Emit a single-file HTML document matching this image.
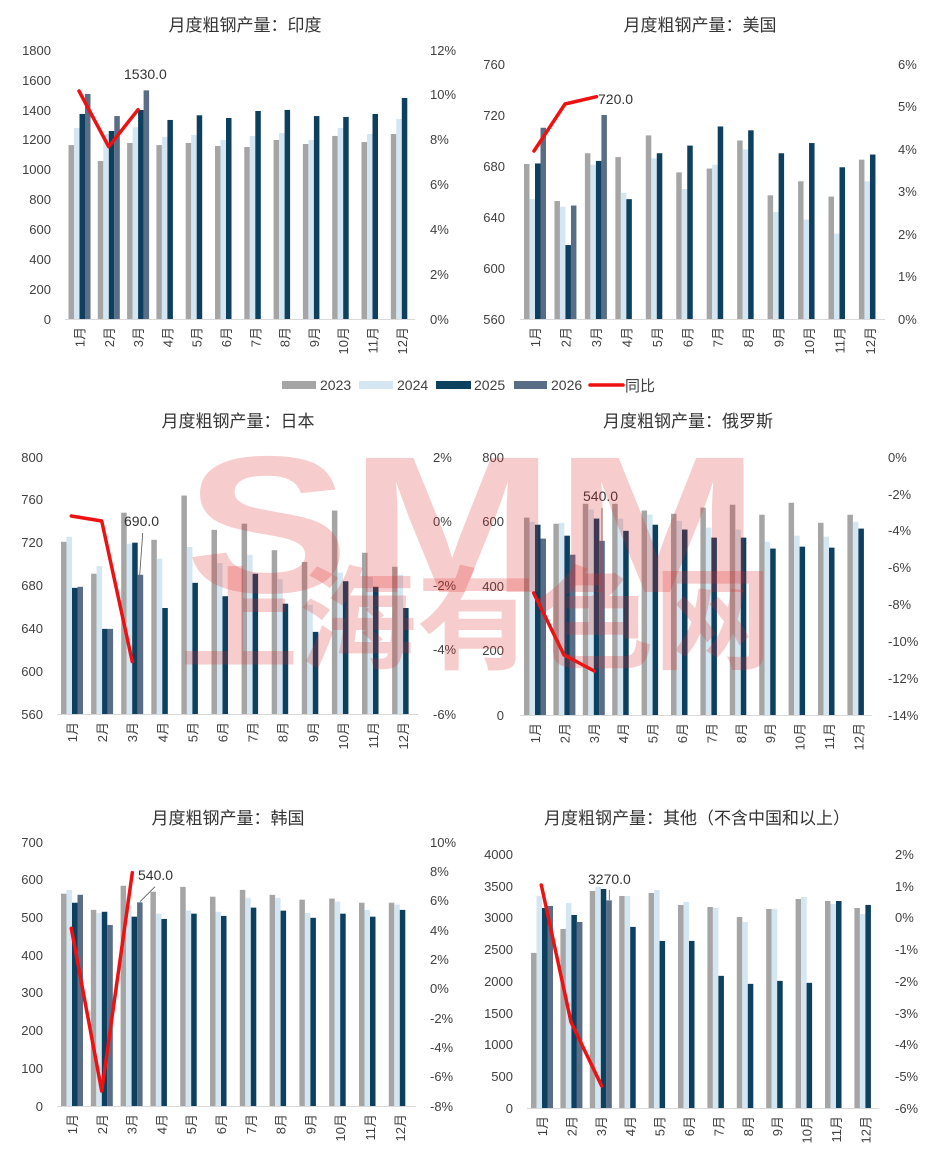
<!DOCTYPE html>
<html><head><meta charset="utf-8"><style>
html,body{margin:0;padding:0;background:#fff;}
svg{display:block;font-family:"Liberation Sans","Noto Sans CJK SC",sans-serif;}
.t{font-size:17px;fill:#333;text-anchor:middle;}
.l{font-size:13px;fill:#404040;text-anchor:end;}
.r{font-size:13px;fill:#404040;text-anchor:start;}
.m{font-size:13px;fill:#404040;text-anchor:end;}
.a{stroke:#d9d9d9;stroke-width:1;}
.g{fill:#a5a5a5}.b{fill:#d3e6f1}.d{fill:#0d3f5e}.s{fill:#5a6d86}
.ln{fill:none;stroke:#ee1111;stroke-width:3.5;stroke-linejoin:round;stroke-linecap:round;}
.lab{font-size:14px;fill:#333;}
</style></head><body>
<svg width="937" height="1171" viewBox="0 0 937 1171" xmlns="http://www.w3.org/2000/svg">
<rect width="937" height="1171" fill="#fff"/>

<!-- ===== INDIA ===== -->
<text class="t" x="245" y="31">月度粗钢产量：印度</text>
<g class="l"><text x="51" y="55">1800</text><text x="51" y="85">1600</text><text x="51" y="115">1400</text><text x="51" y="144">1200</text><text x="51" y="174">1000</text><text x="51" y="204">800</text><text x="51" y="234">600</text><text x="51" y="264">400</text><text x="51" y="294">200</text><text x="51" y="324">0</text></g>
<g class="r"><text x="430" y="55">12%</text><text x="430" y="99">10%</text><text x="430" y="144">8%</text><text x="430" y="189">6%</text><text x="430" y="234">4%</text><text x="430" y="279">2%</text><text x="430" y="324">0%</text></g>
<line class="a" x1="65" y1="319.5" x2="415" y2="319.5"/>
<g transform="translate(0,319) scale(1,-0.14944)">
<g transform="translate(79.5,0)"><rect class="g" x="-11" width="5.5" height="1164"/><rect class="b" x="-5.5" width="5.5" height="1278"/><rect class="d" x="0" width="5.5" height="1372"/><rect class="s" x="5.5" width="5.5" height="1506"/></g>
<g transform="translate(108.8,0)"><rect class="g" x="-11" width="5.5" height="1057"/><rect class="b" x="-5.5" width="5.5" height="1240"/><rect class="d" x="0" width="5.5" height="1258"/><rect class="s" x="5.5" width="5.5" height="1358"/></g>
<g transform="translate(138.1,0)"><rect class="g" x="-11" width="5.5" height="1178"/><rect class="b" x="-5.5" width="5.5" height="1283"/><rect class="d" x="0" width="5.5" height="1399"/><rect class="s" x="5.5" width="5.5" height="1530"/></g>
<g transform="translate(167.4,0)"><rect class="g" x="-11" width="5.5" height="1164"/><rect class="b" x="-5.5" width="5.5" height="1218"/><rect class="d" x="0" width="5.5" height="1332"/></g>
<g transform="translate(196.7,0)"><rect class="g" x="-11" width="5.5" height="1178"/><rect class="b" x="-5.5" width="5.5" height="1231"/><rect class="d" x="0" width="5.5" height="1363"/></g>
<g transform="translate(226,0)"><rect class="g" x="-11" width="5.5" height="1158"/><rect class="b" x="-5.5" width="5.5" height="1198"/><rect class="d" x="0" width="5.5" height="1345"/></g>
<g transform="translate(255.3,0)"><rect class="g" x="-11" width="5.5" height="1151"/><rect class="b" x="-5.5" width="5.5" height="1225"/><rect class="d" x="0" width="5.5" height="1392"/></g>
<g transform="translate(284.6,0)"><rect class="g" x="-11" width="5.5" height="1198"/><rect class="b" x="-5.5" width="5.5" height="1245"/><rect class="d" x="0" width="5.5" height="1399"/></g>
<g transform="translate(313.9,0)"><rect class="g" x="-11" width="5.5" height="1171"/><rect class="b" x="-5.5" width="5.5" height="1198"/><rect class="d" x="0" width="5.5" height="1358"/></g>
<g transform="translate(343.2,0)"><rect class="g" x="-11" width="5.5" height="1225"/><rect class="b" x="-5.5" width="5.5" height="1278"/><rect class="d" x="0" width="5.5" height="1352"/></g>
<g transform="translate(372.5,0)"><rect class="g" x="-11" width="5.5" height="1184"/><rect class="b" x="-5.5" width="5.5" height="1238"/><rect class="d" x="0" width="5.5" height="1372"/></g>
<g transform="translate(401.8,0)"><rect class="g" x="-11" width="5.5" height="1238"/><rect class="b" x="-5.5" width="5.5" height="1338"/><rect class="d" x="0" width="5.5" height="1479"/></g>
</g>
<polyline class="ln" points="79,91 108.7,146.7 138,109.7"/>
<text class="lab" x="124" y="79">1530.0</text>
<g class="m">
<text transform="translate(84.5,327) rotate(-90)">1月</text><text transform="translate(113.8,327) rotate(-90)">2月</text><text transform="translate(143.1,327) rotate(-90)">3月</text><text transform="translate(172.4,327) rotate(-90)">4月</text><text transform="translate(201.7,327) rotate(-90)">5月</text><text transform="translate(231,327) rotate(-90)">6月</text><text transform="translate(260.3,327) rotate(-90)">7月</text><text transform="translate(289.6,327) rotate(-90)">8月</text><text transform="translate(318.9,327) rotate(-90)">9月</text><text transform="translate(348.2,327) rotate(-90)">10月</text><text transform="translate(377.5,327) rotate(-90)">11月</text><text transform="translate(406.8,327) rotate(-90)">12月</text>
</g>

<!-- ===== US ===== -->
<text class="t" x="700" y="31">月度粗钢产量：美国</text>
<g class="l"><text x="505" y="69">760</text><text x="505" y="120">720</text><text x="505" y="171">680</text><text x="505" y="222">640</text><text x="505" y="273">600</text><text x="505" y="324">560</text></g>
<g class="r"><text x="898" y="69">6%</text><text x="898" y="111">5%</text><text x="898" y="154">4%</text><text x="898" y="196">3%</text><text x="898" y="239">2%</text><text x="898" y="281">1%</text><text x="898" y="324">0%</text></g>
<line class="a" x1="520" y1="319.5" x2="885" y2="319.5"/>
<g transform="translate(0,319) scale(1,-1.275)">
<g transform="translate(535,0)"><rect class="g" x="-11" width="5.5" height="121.6"/><rect class="b" x="-5.5" width="5.5" height="94"/><rect class="d" x="0" width="5.5" height="122"/><rect class="s" x="5.5" width="5.5" height="150"/></g>
<g transform="translate(565.45,0)"><rect class="g" x="-11" width="5.5" height="92.5"/><rect class="b" x="-5.5" width="5.5" height="88"/><rect class="d" x="0" width="5.5" height="58"/><rect class="s" x="5.5" width="5.5" height="89"/></g>
<g transform="translate(595.9,0)"><rect class="g" x="-11" width="5.5" height="130"/><rect class="b" x="-5.5" width="5.5" height="121"/><rect class="d" x="0" width="5.5" height="124"/><rect class="s" x="5.5" width="5.5" height="160"/></g>
<g transform="translate(626.35,0)"><rect class="g" x="-11" width="5.5" height="127"/><rect class="b" x="-5.5" width="5.5" height="99"/><rect class="d" x="0" width="5.5" height="94"/></g>
<g transform="translate(656.8,0)"><rect class="g" x="-11" width="5.5" height="144"/><rect class="b" x="-5.5" width="5.5" height="126"/><rect class="d" x="0" width="5.5" height="130"/></g>
<g transform="translate(687.25,0)"><rect class="g" x="-11" width="5.5" height="115"/><rect class="b" x="-5.5" width="5.5" height="102"/><rect class="d" x="0" width="5.5" height="136"/></g>
<g transform="translate(717.7,0)"><rect class="g" x="-11" width="5.5" height="118"/><rect class="b" x="-5.5" width="5.5" height="121"/><rect class="d" x="0" width="5.5" height="151"/></g>
<g transform="translate(748.15,0)"><rect class="g" x="-11" width="5.5" height="140"/><rect class="b" x="-5.5" width="5.5" height="133"/><rect class="d" x="0" width="5.5" height="148"/></g>
<g transform="translate(778.6,0)"><rect class="g" x="-11" width="5.5" height="97"/><rect class="b" x="-5.5" width="5.5" height="84"/><rect class="d" x="0" width="5.5" height="130"/></g>
<g transform="translate(809.05,0)"><rect class="g" x="-11" width="5.5" height="108"/><rect class="b" x="-5.5" width="5.5" height="78"/><rect class="d" x="0" width="5.5" height="138"/></g>
<g transform="translate(839.5,0)"><rect class="g" x="-11" width="5.5" height="96"/><rect class="b" x="-5.5" width="5.5" height="67"/><rect class="d" x="0" width="5.5" height="119"/></g>
<g transform="translate(869.95,0)"><rect class="g" x="-11" width="5.5" height="125"/><rect class="b" x="-5.5" width="5.5" height="108"/><rect class="d" x="0" width="5.5" height="129"/></g>
</g>
<polyline class="ln" points="534,151 565,104 596.5,96.7"/>
<text class="lab" x="598" y="104">720.0</text>
<g class="m">
<text transform="translate(540,327) rotate(-90)">1月</text><text transform="translate(570.45,327) rotate(-90)">2月</text><text transform="translate(600.9,327) rotate(-90)">3月</text><text transform="translate(631.35,327) rotate(-90)">4月</text><text transform="translate(661.8,327) rotate(-90)">5月</text><text transform="translate(692.25,327) rotate(-90)">6月</text><text transform="translate(722.7,327) rotate(-90)">7月</text><text transform="translate(753.15,327) rotate(-90)">8月</text><text transform="translate(783.6,327) rotate(-90)">9月</text><text transform="translate(814.05,327) rotate(-90)">10月</text><text transform="translate(844.5,327) rotate(-90)">11月</text><text transform="translate(874.95,327) rotate(-90)">12月</text>
</g>

<!-- ===== LEGEND ===== -->
<rect x="282" y="381" width="34" height="8" class="g"/><text x="320" y="390" font-size="14" fill="#404040">2023</text>
<rect x="359" y="381" width="34" height="8" class="b"/><text x="397" y="390" font-size="14" fill="#404040">2024</text>
<rect x="436" y="381" width="35" height="8" class="d"/><text x="474" y="390" font-size="14" fill="#404040">2025</text>
<rect x="514" y="381" width="33" height="8" class="s"/><text x="551" y="390" font-size="14" fill="#404040">2026</text>
<line x1="590" y1="385" x2="623" y2="385" stroke="#ee1111" stroke-width="3.5" stroke-linecap="round"/><text x="625" y="391" font-size="15" fill="#404040">同比</text>

<!-- ===== JAPAN ===== -->
<text class="t" x="238" y="427">月度粗钢产量：日本</text>
<g class="l"><text x="43" y="462">800</text><text x="43" y="504">760</text><text x="43" y="547">720</text><text x="43" y="590">680</text><text x="43" y="633">640</text><text x="43" y="676">600</text><text x="43" y="719">560</text></g>
<g class="r"><text x="433" y="462">2%</text><text x="433" y="526">0%</text><text x="433" y="590">-2%</text><text x="433" y="654">-4%</text><text x="433" y="719">-6%</text></g>
<line class="a" x1="57" y1="714.5" x2="418" y2="714.5"/>
<g transform="translate(0,714) scale(1,-1.0708)">
<g transform="translate(72,0)"><rect class="g" x="-11" width="5.5" height="160.8"/><rect class="b" x="-5.5" width="5.5" height="165.5"/><rect class="d" x="0" width="5.5" height="117.8"/><rect class="s" x="5.5" width="5.5" height="118.8"/></g>
<g transform="translate(102.1,0)"><rect class="g" x="-11" width="5.5" height="131"/><rect class="b" x="-5.5" width="5.5" height="138"/><rect class="d" x="0" width="5.5" height="79.5"/><rect class="s" x="5.5" width="5.5" height="79.5"/></g>
<g transform="translate(132.2,0)"><rect class="g" x="-11" width="5.5" height="188"/><rect class="b" x="-5.5" width="5.5" height="159"/><rect class="d" x="0" width="5.5" height="160"/><rect class="s" x="5.5" width="5.5" height="130"/></g>
<g transform="translate(162.3,0)"><rect class="g" x="-11" width="5.5" height="162.7"/><rect class="b" x="-5.5" width="5.5" height="145"/><rect class="d" x="0" width="5.5" height="99"/></g>
<g transform="translate(192.4,0)"><rect class="g" x="-11" width="5.5" height="204"/><rect class="b" x="-5.5" width="5.5" height="156"/><rect class="d" x="0" width="5.5" height="122.5"/></g>
<g transform="translate(222.5,0)"><rect class="g" x="-11" width="5.5" height="172"/><rect class="b" x="-5.5" width="5.5" height="141"/><rect class="d" x="0" width="5.5" height="110"/></g>
<g transform="translate(252.6,0)"><rect class="g" x="-11" width="5.5" height="177.7"/><rect class="b" x="-5.5" width="5.5" height="148.7"/><rect class="d" x="0" width="5.5" height="131"/></g>
<g transform="translate(282.7,0)"><rect class="g" x="-11" width="5.5" height="153"/><rect class="b" x="-5.5" width="5.5" height="126"/><rect class="d" x="0" width="5.5" height="103"/></g>
<g transform="translate(312.8,0)"><rect class="g" x="-11" width="5.5" height="142"/><rect class="b" x="-5.5" width="5.5" height="102"/><rect class="d" x="0" width="5.5" height="76.7"/></g>
<g transform="translate(342.9,0)"><rect class="g" x="-11" width="5.5" height="190"/><rect class="b" x="-5.5" width="5.5" height="132"/><rect class="d" x="0" width="5.5" height="124"/></g>
<g transform="translate(373,0)"><rect class="g" x="-11" width="5.5" height="150.6"/><rect class="b" x="-5.5" width="5.5" height="128"/><rect class="d" x="0" width="5.5" height="118.8"/></g>
<g transform="translate(403.1,0)"><rect class="g" x="-11" width="5.5" height="137.5"/><rect class="b" x="-5.5" width="5.5" height="130"/><rect class="d" x="0" width="5.5" height="99"/></g>
</g>
<polyline class="ln" points="71.3,516 101.7,521 132.3,661.7"/>
<text class="lab" x="124" y="526">690.0</text>
<line x1="142.7" y1="533" x2="139.7" y2="575" stroke="#555" stroke-width="0.8"/>
<g class="m">
<text transform="translate(77,722) rotate(-90)">1月</text><text transform="translate(107.1,722) rotate(-90)">2月</text><text transform="translate(137.2,722) rotate(-90)">3月</text><text transform="translate(167.3,722) rotate(-90)">4月</text><text transform="translate(197.4,722) rotate(-90)">5月</text><text transform="translate(227.5,722) rotate(-90)">6月</text><text transform="translate(257.6,722) rotate(-90)">7月</text><text transform="translate(287.7,722) rotate(-90)">8月</text><text transform="translate(317.8,722) rotate(-90)">9月</text><text transform="translate(347.9,722) rotate(-90)">10月</text><text transform="translate(378,722) rotate(-90)">11月</text><text transform="translate(408.1,722) rotate(-90)">12月</text>
</g>

<!-- ===== RUSSIA ===== -->
<text class="t" x="688" y="427">月度粗钢产量：俄罗斯</text>
<g class="l"><text x="504" y="462">800</text><text x="504" y="526">600</text><text x="504" y="591">400</text><text x="504" y="655">200</text><text x="504" y="720">0</text></g>
<g class="r"><text x="888" y="462">0%</text><text x="888" y="499">-2%</text><text x="888" y="535">-4%</text><text x="888" y="572">-6%</text><text x="888" y="609">-8%</text><text x="888" y="646">-10%</text><text x="888" y="683">-12%</text><text x="888" y="720">-14%</text></g>
<line class="a" x1="520" y1="715.5" x2="872" y2="715.5"/>
<g transform="translate(0,715) scale(1,-0.3225)">
<g transform="translate(535,0)"><rect class="g" x="-11" width="5.5" height="612"/><rect class="b" x="-5.5" width="5.5" height="599"/><rect class="d" x="0" width="5.5" height="590"/><rect class="s" x="5.5" width="5.5" height="547"/></g>
<g transform="translate(564.4,0)"><rect class="g" x="-11" width="5.5" height="593"/><rect class="b" x="-5.5" width="5.5" height="596"/><rect class="d" x="0" width="5.5" height="556"/><rect class="s" x="5.5" width="5.5" height="497"/></g>
<g transform="translate(593.8,0)"><rect class="g" x="-11" width="5.5" height="655"/><rect class="b" x="-5.5" width="5.5" height="637"/><rect class="d" x="0" width="5.5" height="609"/><rect class="s" x="5.5" width="5.5" height="540"/></g>
<g transform="translate(623.2,0)"><rect class="g" x="-11" width="5.5" height="655"/><rect class="b" x="-5.5" width="5.5" height="609"/><rect class="d" x="0" width="5.5" height="571"/></g>
<g transform="translate(652.6,0)"><rect class="g" x="-11" width="5.5" height="634"/><rect class="b" x="-5.5" width="5.5" height="621"/><rect class="d" x="0" width="5.5" height="590"/></g>
<g transform="translate(682,0)"><rect class="g" x="-11" width="5.5" height="624"/><rect class="b" x="-5.5" width="5.5" height="602"/><rect class="d" x="0" width="5.5" height="575"/></g>
<g transform="translate(711.4,0)"><rect class="g" x="-11" width="5.5" height="643"/><rect class="b" x="-5.5" width="5.5" height="581"/><rect class="d" x="0" width="5.5" height="550"/></g>
<g transform="translate(740.8,0)"><rect class="g" x="-11" width="5.5" height="652"/><rect class="b" x="-5.5" width="5.5" height="575"/><rect class="d" x="0" width="5.5" height="550"/></g>
<g transform="translate(770.2,0)"><rect class="g" x="-11" width="5.5" height="621"/><rect class="b" x="-5.5" width="5.5" height="537"/><rect class="d" x="0" width="5.5" height="516"/></g>
<g transform="translate(799.6,0)"><rect class="g" x="-11" width="5.5" height="658"/><rect class="b" x="-5.5" width="5.5" height="556"/><rect class="d" x="0" width="5.5" height="522"/></g>
<g transform="translate(829,0)"><rect class="g" x="-11" width="5.5" height="596"/><rect class="b" x="-5.5" width="5.5" height="553"/><rect class="d" x="0" width="5.5" height="519"/></g>
<g transform="translate(858.4,0)"><rect class="g" x="-11" width="5.5" height="621"/><rect class="b" x="-5.5" width="5.5" height="599"/><rect class="d" x="0" width="5.5" height="578"/></g>
</g>
<polyline class="ln" points="533.7,593 564,655 594.3,671"/>
<text class="lab" x="583" y="501">540.0</text>
<line x1="602" y1="508" x2="602" y2="541" stroke="#555" stroke-width="0.8"/>
<g class="m">
<text transform="translate(540,723) rotate(-90)">1月</text><text transform="translate(569.4,723) rotate(-90)">2月</text><text transform="translate(598.8,723) rotate(-90)">3月</text><text transform="translate(628.2,723) rotate(-90)">4月</text><text transform="translate(657.6,723) rotate(-90)">5月</text><text transform="translate(687,723) rotate(-90)">6月</text><text transform="translate(716.4,723) rotate(-90)">7月</text><text transform="translate(745.8,723) rotate(-90)">8月</text><text transform="translate(775.2,723) rotate(-90)">9月</text><text transform="translate(804.6,723) rotate(-90)">10月</text><text transform="translate(834,723) rotate(-90)">11月</text><text transform="translate(863.4,723) rotate(-90)">12月</text>
</g>

<!-- ===== KOREA ===== -->
<text class="t" x="228" y="824">月度粗钢产量：韩国</text>
<g class="l"><text x="43" y="847">700</text><text x="43" y="884">600</text><text x="43" y="922">500</text><text x="43" y="960">400</text><text x="43" y="997">300</text><text x="43" y="1035">200</text><text x="43" y="1073">100</text><text x="43" y="1111">0</text></g>
<g class="r"><text x="430" y="847">10%</text><text x="430" y="876">8%</text><text x="430" y="905">6%</text><text x="430" y="935">4%</text><text x="430" y="964">2%</text><text x="430" y="993">0%</text><text x="430" y="1023">-2%</text><text x="430" y="1052">-4%</text><text x="430" y="1081">-6%</text><text x="430" y="1111">-8%</text></g>
<line class="a" x1="57" y1="1106.5" x2="416" y2="1106.5"/>
<g transform="translate(0,1106) scale(1,-0.37714)">
<g transform="translate(72,0)"><rect class="g" x="-11" width="5.5" height="563"/><rect class="b" x="-5.5" width="5.5" height="573"/><rect class="d" x="0" width="5.5" height="539"/><rect class="s" x="5.5" width="5.5" height="560"/></g>
<g transform="translate(101.8,0)"><rect class="g" x="-11" width="5.5" height="520"/><rect class="b" x="-5.5" width="5.5" height="512"/><rect class="d" x="0" width="5.5" height="515"/><rect class="s" x="5.5" width="5.5" height="480"/></g>
<g transform="translate(131.6,0)"><rect class="g" x="-11" width="5.5" height="584"/><rect class="b" x="-5.5" width="5.5" height="531"/><rect class="d" x="0" width="5.5" height="502"/><rect class="s" x="5.5" width="5.5" height="540"/></g>
<g transform="translate(161.4,0)"><rect class="g" x="-11" width="5.5" height="568"/><rect class="b" x="-5.5" width="5.5" height="510"/><rect class="d" x="0" width="5.5" height="496"/></g>
<g transform="translate(191.2,0)"><rect class="g" x="-11" width="5.5" height="581"/><rect class="b" x="-5.5" width="5.5" height="518"/><rect class="d" x="0" width="5.5" height="510"/></g>
<g transform="translate(221,0)"><rect class="g" x="-11" width="5.5" height="555"/><rect class="b" x="-5.5" width="5.5" height="515"/><rect class="d" x="0" width="5.5" height="504"/></g>
<g transform="translate(250.8,0)"><rect class="g" x="-11" width="5.5" height="573"/><rect class="b" x="-5.5" width="5.5" height="552"/><rect class="d" x="0" width="5.5" height="526"/></g>
<g transform="translate(280.6,0)"><rect class="g" x="-11" width="5.5" height="560"/><rect class="b" x="-5.5" width="5.5" height="552"/><rect class="d" x="0" width="5.5" height="518"/></g>
<g transform="translate(310.4,0)"><rect class="g" x="-11" width="5.5" height="547"/><rect class="b" x="-5.5" width="5.5" height="512"/><rect class="d" x="0" width="5.5" height="499"/></g>
<g transform="translate(340.2,0)"><rect class="g" x="-11" width="5.5" height="550"/><rect class="b" x="-5.5" width="5.5" height="542"/><rect class="d" x="0" width="5.5" height="510"/></g>
<g transform="translate(370,0)"><rect class="g" x="-11" width="5.5" height="539"/><rect class="b" x="-5.5" width="5.5" height="520"/><rect class="d" x="0" width="5.5" height="502"/></g>
<g transform="translate(399.8,0)"><rect class="g" x="-11" width="5.5" height="539"/><rect class="b" x="-5.5" width="5.5" height="534"/><rect class="d" x="0" width="5.5" height="520"/></g>
</g>
<polyline class="ln" points="71.3,928.3 101.7,1091 132.3,872.7"/>
<text class="lab" x="138" y="880">540.0</text>
<line x1="155" y1="886.7" x2="140" y2="901.7" stroke="#555" stroke-width="0.8"/>
<g class="m">
<text transform="translate(77,1114) rotate(-90)">1月</text><text transform="translate(106.8,1114) rotate(-90)">2月</text><text transform="translate(136.6,1114) rotate(-90)">3月</text><text transform="translate(166.4,1114) rotate(-90)">4月</text><text transform="translate(196.2,1114) rotate(-90)">5月</text><text transform="translate(226,1114) rotate(-90)">6月</text><text transform="translate(255.8,1114) rotate(-90)">7月</text><text transform="translate(285.6,1114) rotate(-90)">8月</text><text transform="translate(315.4,1114) rotate(-90)">9月</text><text transform="translate(345.2,1114) rotate(-90)">10月</text><text transform="translate(375,1114) rotate(-90)">11月</text><text transform="translate(404.8,1114) rotate(-90)">12月</text>
</g>

<!-- ===== OTHER ===== -->
<text class="t" x="697" y="824">月度粗钢产量：其他（不含中国和以上）</text>
<g class="l"><text x="513" y="859">4000</text><text x="513" y="891">3500</text><text x="513" y="922">3000</text><text x="513" y="954">2500</text><text x="513" y="986">2000</text><text x="513" y="1018">1500</text><text x="513" y="1049">1000</text><text x="513" y="1081">500</text><text x="513" y="1113">0</text></g>
<g class="r"><text x="895" y="859">2%</text><text x="895" y="891">1%</text><text x="895" y="922">0%</text><text x="895" y="954">-1%</text><text x="895" y="986">-2%</text><text x="895" y="1018">-3%</text><text x="895" y="1049">-4%</text><text x="895" y="1081">-5%</text><text x="895" y="1113">-6%</text></g>
<line class="a" x1="527" y1="1108.5" x2="879" y2="1108.5"/>
<g transform="translate(0,1108) scale(1,-0.0635)">
<g transform="translate(542,0)"><rect class="g" x="-11" width="5.5" height="2443"/><rect class="b" x="-5.5" width="5.5" height="3339"/><rect class="d" x="0" width="5.5" height="3150"/><rect class="s" x="5.5" width="5.5" height="3182"/></g>
<g transform="translate(571.4,0)"><rect class="g" x="-11" width="5.5" height="2820"/><rect class="b" x="-5.5" width="5.5" height="3229"/><rect class="d" x="0" width="5.5" height="3040"/><rect class="s" x="5.5" width="5.5" height="2930"/></g>
<g transform="translate(600.8,0)"><rect class="g" x="-11" width="5.5" height="3418"/><rect class="b" x="-5.5" width="5.5" height="3481"/><rect class="d" x="0" width="5.5" height="3449"/><rect class="s" x="5.5" width="5.5" height="3270"/></g>
<g transform="translate(630.2,0)"><rect class="g" x="-11" width="5.5" height="3339"/><rect class="b" x="-5.5" width="5.5" height="3339"/><rect class="d" x="0" width="5.5" height="2852"/></g>
<g transform="translate(659.6,0)"><rect class="g" x="-11" width="5.5" height="3386"/><rect class="b" x="-5.5" width="5.5" height="3434"/><rect class="d" x="0" width="5.5" height="2631"/></g>
<g transform="translate(689,0)"><rect class="g" x="-11" width="5.5" height="3198"/><rect class="b" x="-5.5" width="5.5" height="3245"/><rect class="d" x="0" width="5.5" height="2631"/></g>
<g transform="translate(718.4,0)"><rect class="g" x="-11" width="5.5" height="3166"/><rect class="b" x="-5.5" width="5.5" height="3150"/><rect class="d" x="0" width="5.5" height="2081"/></g>
<g transform="translate(747.8,0)"><rect class="g" x="-11" width="5.5" height="3009"/><rect class="b" x="-5.5" width="5.5" height="2930"/><rect class="d" x="0" width="5.5" height="1955"/></g>
<g transform="translate(777.2,0)"><rect class="g" x="-11" width="5.5" height="3135"/><rect class="b" x="-5.5" width="5.5" height="3135"/><rect class="d" x="0" width="5.5" height="2002"/></g>
<g transform="translate(806.6,0)"><rect class="g" x="-11" width="5.5" height="3292"/><rect class="b" x="-5.5" width="5.5" height="3323"/><rect class="d" x="0" width="5.5" height="1971"/></g>
<g transform="translate(836,0)"><rect class="g" x="-11" width="5.5" height="3260"/><rect class="b" x="-5.5" width="5.5" height="3213"/><rect class="d" x="0" width="5.5" height="3260"/></g>
<g transform="translate(865.4,0)"><rect class="g" x="-11" width="5.5" height="3150"/><rect class="b" x="-5.5" width="5.5" height="3056"/><rect class="d" x="0" width="5.5" height="3198"/></g>
</g>
<polyline class="ln" points="541.3,885 571,1022 601.7,1086"/>
<text class="lab" x="588" y="884">3270.0</text>
<line x1="609.3" y1="890" x2="609.3" y2="900" stroke="#555" stroke-width="0.8"/>
<g class="m">
<text transform="translate(547,1116) rotate(-90)">1月</text><text transform="translate(576.4,1116) rotate(-90)">2月</text><text transform="translate(605.8,1116) rotate(-90)">3月</text><text transform="translate(635.2,1116) rotate(-90)">4月</text><text transform="translate(664.6,1116) rotate(-90)">5月</text><text transform="translate(694,1116) rotate(-90)">6月</text><text transform="translate(723.4,1116) rotate(-90)">7月</text><text transform="translate(752.8,1116) rotate(-90)">8月</text><text transform="translate(782.2,1116) rotate(-90)">9月</text><text transform="translate(811.6,1116) rotate(-90)">10月</text><text transform="translate(841,1116) rotate(-90)">11月</text><text transform="translate(870.4,1116) rotate(-90)">12月</text>
</g>

<!-- ===== WATERMARK ===== -->
<g fill="rgb(220,40,40)" fill-opacity="0.24" font-weight="bold">
<text x="185" y="592" font-size="195" textLength="575" lengthAdjust="spacingAndGlyphs" font-family="Liberation Sans, sans-serif">SMM</text>
<text x="180" y="660" font-size="112" textLength="592" lengthAdjust="spacingAndGlyphs" font-family="Noto Sans CJK SC, sans-serif">上海有色网</text>
</g>
</svg>
</body></html>
